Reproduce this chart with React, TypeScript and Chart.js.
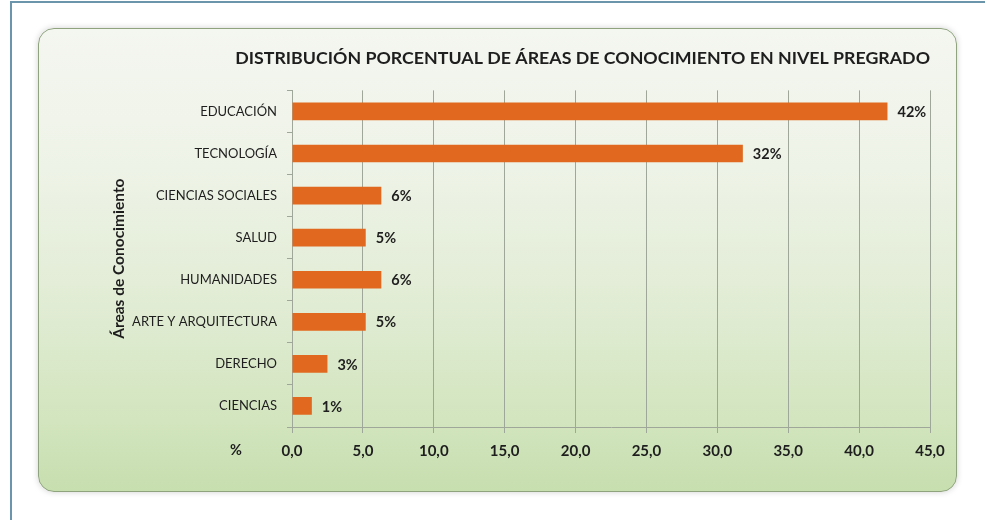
import React, { useEffect, useRef } from "react";
import { Chart, registerables } from "chart.js";

Chart.register(...registerables);

const categories = [
  "EDUCACIÓN",
  "TECNOLOGÍA",
  "CIENCIAS SOCIALES",
  "SALUD",
  "HUMANIDADES",
  "ARTE Y ARQUITECTURA",
  "DERECHO",
  "CIENCIAS",
];
const values = [42.0, 31.8, 6.3, 5.2, 6.3, 5.2, 2.5, 1.4];
const valueLabels = ["42%", "32%", "6%", "5%", "6%", "5%", "3%", "1%"];
const titleText = "DISTRIBUCIÓN PORCENTUAL DE ÁREAS DE CONOCIMIENTO EN NIVEL PREGRADO";
const yTitle = "Áreas de Conocimiento";
const xUnit = "%";

const FONT = "Lato, 'Open Sans', sans-serif";
const TEXT = "#1e1e1e";

const labelPlugin = {
  id: "valueLabels",
  afterDatasetsDraw(chart: any) {
    const ctx = chart.ctx;
    const meta = chart.getDatasetMeta(0);
    ctx.save();
    ctx.font = `bold 14.5px ${FONT}`;
    ctx.fillStyle = TEXT;
    ctx.textAlign = "left";
    ctx.textBaseline = "middle";
    meta.data.forEach((bar: any, i: number) => {
      ctx.fillText(valueLabels[i], bar.x + 10, bar.y + 1);
    });
    // unit label left of x-axis ticks
    const xs = chart.scales.x;
    ctx.textAlign = "center";
    ctx.fillText(xUnit, 236, xs.top + 23);
    ctx.restore();
  },
};

function BarChart() {
  const ref = useRef<HTMLCanvasElement>(null);
  useEffect(() => {
    if (!ref.current) return;
    const chart = new Chart(ref.current, {
      type: "bar",
      data: {
        labels: categories,
        datasets: [
          {
            data: values,
            backgroundColor: "#e0691f",
            borderWidth: 0,
            barPercentage: 0.42,
            categoryPercentage: 1,
          },
        ],
      },
      options: {
        indexAxis: "y",
        animation: false,
        responsive: false,
        devicePixelRatio: 1,
        layout: { padding: { top: 48, left: 110, right: 55, bottom: 0 } },
        plugins: {
          legend: { display: false },
          tooltip: { enabled: false },
          title: {
            display: true,
            text: titleText,
            align: "end",
            color: TEXT,
            font: { family: FONT, size: 17.8, weight: "bold" },
            padding: { top: 0, bottom: 21 },
          },
        },
        scales: {
          x: {
            min: 0,
            max: 45,
            ticks: {
              stepSize: 5,
              color: TEXT,
              padding: 9,
              font: { family: FONT, size: 15, weight: "bold" },
              callback: (v: any) => Number(v).toFixed(1).replace(".", ","),
            },
            grid: { color: "#9ea79a", lineWidth: 1, tickLength: 6 },
            border: { color: "#9ea79a" },
            afterFit: (s: any) => {
              s.height = 93;
            },
          },
          y: {
            ticks: {
              color: TEXT,
              padding: 10,
              font: { family: FONT, size: 13 },
            },
            grid: { drawOnChartArea: false, color: "#9ea79a", tickLength: 5 },
            border: { color: "#9ea79a" },
            title: {
              display: true,
              text: yTitle,
              color: TEXT,
              font: { family: FONT, size: 15.5, weight: "bold" },
              padding: 0,
            },
            afterFit: (s: any) => {
              s.width = 182;
            },
          },
        },
      },
      plugins: [labelPlugin],
    });
    return () => chart.destroy();
  }, []);
  return (
    <canvas
      ref={ref}
      width={985}
      height={520}
      style={{ position: "absolute", left: 0, top: 0, width: 985, height: 520 }}
    />
  );
}

export default function App() {
  return (
    <div
      style={{
        position: "absolute",
        left: 0,
        top: 0,
        width: 985,
        height: 520,
        background: "#ffffff",
        overflow: "hidden",
      }}
    >
      <div
        style={{
          position: "absolute",
          left: 10,
          top: 1,
          width: 985,
          height: 530,
          borderLeft: "2px solid #6b95aa",
          borderTop: "2px solid #6b95aa",
        }}
      />
      <div
        style={{
          position: "absolute",
          left: 38,
          top: 28,
          width: 917,
          height: 462,
          borderRadius: 16,
          border: "1px solid #8fa37f",
          background:
            "linear-gradient(to bottom, #f4f6f0 0%, #eef3e7 30%, #e1ecd4 60%, #d2e5be 85%, #c7deaf 100%)",
          boxShadow: "0 0 6px rgba(0,0,0,0.18)",
        }}
      />
      <BarChart />
    </div>
  );
}
